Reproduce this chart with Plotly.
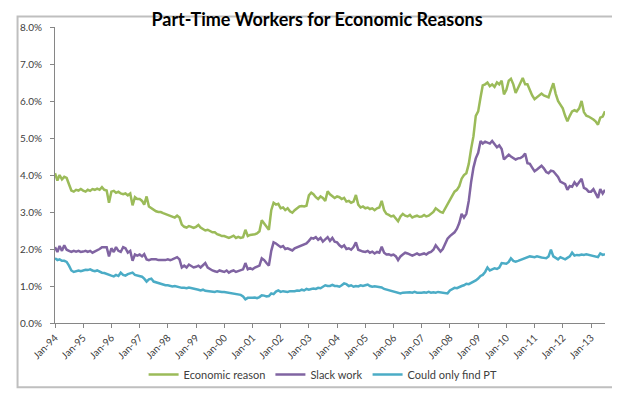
import pandas as pd
import plotly.graph_objects as go

# Monthly data, Jan-1994 .. Jul-2013 (percent)
economic_reason = [
    4.05, 3.85, 4.00, 3.88, 3.95, 3.92, 3.75, 3.58, 3.55, 3.60, 3.58, 3.62,  # 1994
    3.58, 3.55, 3.60, 3.57, 3.62, 3.60, 3.63, 3.60, 3.67, 3.60, 3.58, 3.25,  # 1995
    3.55, 3.57, 3.52, 3.55, 3.50, 3.48, 3.50, 3.45, 3.50, 3.18, 3.40, 3.35,  # 1996
    3.35, 3.30, 3.20, 3.42, 3.15, 3.10, 3.05, 3.02, 3.00, 3.00, 2.97, 2.95,  # 1997
    2.93, 2.90, 2.88, 2.85, 2.90, 2.85, 2.66, 2.60, 2.58, 2.62, 2.60, 2.57,  # 1998
    2.60, 2.65, 2.58, 2.55, 2.50, 2.52, 2.48, 2.45, 2.45, 2.40, 2.38, 2.35,  # 1999
    2.35, 2.32, 2.30, 2.33, 2.36, 2.30, 2.33, 2.30, 2.32, 2.52, 2.35, 2.38,  # 2000
    2.38, 2.40, 2.42, 2.48, 2.78, 2.68, 2.62, 2.52, 3.05, 3.25, 3.20, 3.22,  # 2001
    3.10, 3.12, 3.05, 3.10, 3.02, 2.98, 3.05, 3.10, 3.15, 3.16, 3.15, 3.17,  # 2002
    3.45, 3.52, 3.48, 3.40, 3.35, 3.42, 3.38, 3.30, 3.56, 3.48, 3.42, 3.38,  # 2003
    3.42, 3.40, 3.35, 3.38, 3.28, 3.30, 3.25, 3.28, 3.46, 3.20, 3.12, 3.15,  # 2004
    3.10, 3.12, 3.08, 3.10, 3.05, 3.10, 3.12, 3.30, 3.05, 2.95, 2.92, 2.88,  # 2005
    2.90, 2.82, 2.75, 2.88, 2.95, 2.90, 2.88, 2.92, 2.85, 2.88, 2.90, 2.87,  # 2006
    2.88, 2.92, 2.88, 2.90, 2.95, 3.00, 3.10, 3.05, 3.00, 2.98, 3.10, 3.20,  # 2007
    3.35, 3.45, 3.55, 3.60, 3.70, 3.90, 4.00, 4.05, 4.30, 4.70, 5.05, 5.60,  # 2008
    5.72, 6.10, 6.42, 6.45, 6.50, 6.40, 6.45, 6.38, 6.50, 6.45, 6.55, 6.18,  # 2009
    6.30, 6.55, 6.60, 6.45, 6.22, 6.35, 6.50, 6.62, 6.45, 6.45, 6.30, 6.15,  # 2010
    6.05, 6.10, 6.15, 6.20, 6.15, 6.12, 6.10, 6.30, 6.48, 6.20, 6.00, 5.90,  # 2011
    5.80, 5.60, 5.45, 5.60, 5.72, 5.75, 5.72, 5.80, 6.00, 5.70, 5.60, 5.58,  # 2012
    5.55, 5.50, 5.45, 5.36, 5.55, 5.58, 5.72,                                # 2013
]

slack_work = [
    2.05, 1.92, 2.08, 1.95, 2.10, 1.98, 1.95, 1.92, 1.95, 1.93, 1.95, 1.92,  # 1994
    1.93, 1.95, 1.92, 1.95, 1.90, 1.93, 1.95, 2.00, 2.05, 2.06, 2.05, 1.80,  # 1995
    2.02, 1.92, 2.05, 1.95, 1.92, 2.05, 2.02, 1.90, 1.95, 1.68, 1.85, 1.82,  # 1996
    1.85, 1.80, 1.86, 1.72, 1.70, 1.72, 1.73, 1.72, 1.70, 1.70, 1.68, 1.70,  # 1997
    1.72, 1.70, 1.72, 1.74, 1.78, 1.72, 1.50, 1.55, 1.50, 1.58, 1.55, 1.50,  # 1998
    1.52, 1.55, 1.50, 1.55, 1.62, 1.50, 1.45, 1.42, 1.40, 1.38, 1.42, 1.40,  # 1999
    1.38, 1.42, 1.36, 1.40, 1.42, 1.38, 1.40, 1.42, 1.45, 1.62, 1.45, 1.48,  # 2000
    1.45, 1.50, 1.52, 1.55, 1.75, 1.70, 1.62, 1.55, 1.95, 2.18, 2.15, 2.10,  # 2001
    2.05, 2.08, 2.00, 2.02, 1.98, 1.96, 2.02, 2.05, 2.08, 2.10, 2.12, 2.15,  # 2002
    2.22, 2.30, 2.28, 2.32, 2.25, 2.30, 2.20, 2.25, 2.32, 2.22, 2.30, 2.20,  # 2003
    2.18, 2.10, 2.05, 2.10, 2.00, 2.02, 1.98, 2.05, 2.18, 1.98, 1.95, 1.93,  # 2004
    1.92, 1.95, 1.90, 1.93, 1.88, 1.92, 1.90, 2.06, 1.90, 1.85, 1.86, 1.83,  # 2005
    1.85, 1.80, 1.70, 1.80, 1.85, 1.90, 1.88, 1.85, 1.82, 1.85, 1.88, 1.84,  # 2006
    1.85, 1.88, 1.85, 1.90, 1.92, 1.98, 2.10, 2.00, 1.93, 2.00, 2.15, 2.28,  # 2007
    2.35, 2.40, 2.45, 2.55, 2.70, 2.95, 2.85, 2.95, 3.30, 3.80, 4.20, 4.45,  # 2008
    4.60, 4.92, 4.85, 4.90, 4.88, 4.85, 4.92, 4.82, 4.75, 4.80, 4.70, 4.42,  # 2009
    4.48, 4.55, 4.50, 4.45, 4.42, 4.45, 4.46, 4.50, 4.58, 4.32, 4.30, 4.20,  # 2010
    4.10, 4.15, 4.20, 4.25, 4.18, 4.08, 4.05, 4.12, 4.10, 4.02, 3.95, 3.82,  # 2011
    3.78, 3.75, 3.60, 3.70, 3.68, 3.80, 3.72, 3.82, 3.90, 3.65, 3.62, 3.55,  # 2012
    3.55, 3.62, 3.50, 3.38, 3.62, 3.50, 3.60,                                # 2013
]

could_only_find_pt = [
    1.75, 1.70, 1.72, 1.68, 1.68, 1.65, 1.55, 1.42, 1.38, 1.40, 1.42, 1.40,  # 1994
    1.42, 1.44, 1.43, 1.45, 1.42, 1.40, 1.42, 1.38, 1.36, 1.35, 1.32, 1.30,  # 1995
    1.28, 1.26, 1.30, 1.27, 1.36, 1.30, 1.28, 1.32, 1.33, 1.36, 1.30, 1.28,  # 1996
    1.27, 1.25, 1.20, 1.12, 1.18, 1.20, 1.12, 1.10, 1.08, 1.05, 1.04, 1.02,  # 1997
    1.02, 1.00, 0.99, 1.00, 0.98, 0.97, 0.95, 0.95, 0.94, 0.96, 0.95, 0.94,  # 1998
    0.92, 0.90, 0.88, 0.90, 0.87, 0.86, 0.87, 0.85, 0.84, 0.86, 0.84, 0.84,  # 1999
    0.84, 0.83, 0.82, 0.80, 0.80, 0.79, 0.78, 0.76, 0.72, 0.64, 0.68, 0.67,  # 2000
    0.68, 0.69, 0.67, 0.70, 0.75, 0.74, 0.72, 0.73, 0.80, 0.78, 0.85, 0.88,  # 2001
    0.84, 0.86, 0.85, 0.84, 0.86, 0.85, 0.86, 0.88, 0.87, 0.90, 0.88, 0.92,  # 2002
    0.90, 0.92, 0.93, 0.92, 0.95, 0.94, 0.98, 1.02, 1.00, 1.00, 1.03, 1.00,  # 2003
    1.00, 0.98, 1.02, 1.07, 1.05, 1.00, 1.02, 0.98, 1.00, 0.99, 1.02, 1.00,  # 2004
    1.02, 1.04, 1.00, 0.98, 0.99, 0.98, 0.98, 0.96, 0.92, 0.90, 0.88, 0.86,  # 2005
    0.85, 0.83, 0.81, 0.80, 0.82, 0.83, 0.82, 0.83, 0.82, 0.84, 0.82, 0.83,  # 2006
    0.82, 0.83, 0.82, 0.84, 0.82, 0.83, 0.82, 0.84, 0.83, 0.82, 0.82, 0.80,  # 2007
    0.88, 0.92, 0.95, 0.94, 0.98, 1.00, 1.02, 1.06, 1.05, 1.08, 1.10, 1.15,  # 2008
    1.20, 1.27, 1.30, 1.38, 1.50, 1.42, 1.45, 1.48, 1.46, 1.50, 1.62, 1.60,  # 2009
    1.60, 1.65, 1.75, 1.68, 1.66, 1.68, 1.70, 1.72, 1.76, 1.78, 1.80, 1.79,  # 2010
    1.78, 1.80, 1.78, 1.77, 1.76, 1.75, 1.80, 1.98, 1.80, 1.76, 1.72, 1.78,  # 2011
    1.74, 1.72, 1.76, 1.80, 1.90, 1.82, 1.84, 1.83, 1.85, 1.84, 1.86, 1.84,  # 2012
    1.83, 1.82, 1.80, 1.78, 1.88, 1.84, 1.86,                                # 2013
]

months = pd.date_range("1994-01-01", periods=len(economic_reason), freq="MS")

series_names = ["Economic reason", "Slack work", "Could only find PT"]
series_colors = ["#9BBB59", "#8064A2", "#4BACC6"]
series_values = [economic_reason, slack_work, could_only_find_pt]

y_ticks = [0, 1, 2, 3, 4, 5, 6, 7, 8]

fig = go.Figure()
for name, color, vals in zip(series_names, series_colors, series_values):
    fig.add_trace(go.Scatter(
        x=months, y=vals, mode="lines", name=name,
        line=dict(color=color, width=2.5),
    ))

FONT = "Lato, 'Liberation Sans', sans-serif"
AXIS_COLOR = "#868686"
TICK_COLOR = "#404040"

fig.update_layout(
    width=620, height=393,
    margin=dict(l=39, r=23, t=12, b=70),
    paper_bgcolor="white", plot_bgcolor="white",
    font=dict(family=FONT, size=10, color=TICK_COLOR),
    title=dict(
        text="<b>Part-Time Workers for Economic Reasons</b>",
        x=309 / 620, xref="container", xanchor="center",
        y=1 - 12 / 393, yref="container", yanchor="middle",
        font=dict(family=FONT, size=18, color="black"),
    ),
    showlegend=True,
    legend=dict(
        orientation="h", x=(311 - 39) / 558, xanchor="center",
        y=(323 - 377) / 311, yanchor="middle",
        font=dict(family=FONT, size=11, color=TICK_COLOR),
        itemwidth=30, tracegroupgap=0, bgcolor="rgba(0,0,0,0)",
    ),
    xaxis=dict(
        type="date",
        range=["1994-01-01", "2013-07-01"],
        tick0="1994-01-01", dtick="M12", tickformat="%b-%y",
        tickangle=-45,
        showgrid=False, zeroline=False,
        showline=True, linecolor=AXIS_COLOR, linewidth=1,
        ticks="outside", ticklen=4, tickcolor=AXIS_COLOR,
        tickfont=dict(family=FONT, size=10, color=TICK_COLOR),
    ),
    yaxis=dict(
        range=[0, 8], tickvals=y_ticks,
        ticktext=[f"{v:.1f}%" for v in y_ticks],
        showgrid=False, zeroline=False,
        showline=True, linecolor=AXIS_COLOR, linewidth=1,
        ticks="outside", ticklen=4, tickcolor=AXIS_COLOR,
        tickfont=dict(family=FONT, size=10, color=TICK_COLOR),
        ticklabelstandoff=6,
    ),
    shapes=[dict(
        type="rect", xref="paper", yref="paper",
        x0=(1 - 39) / 558, x1=(618.5 - 39) / 558,
        y0=(323 - 390.5) / 311, y1=(323 - 1) / 311,
        line=dict(color="#BFBFBF", width=2), fillcolor="rgba(0,0,0,0)",
        layer="below",
    )],
)

fig.write_html("out.html")
